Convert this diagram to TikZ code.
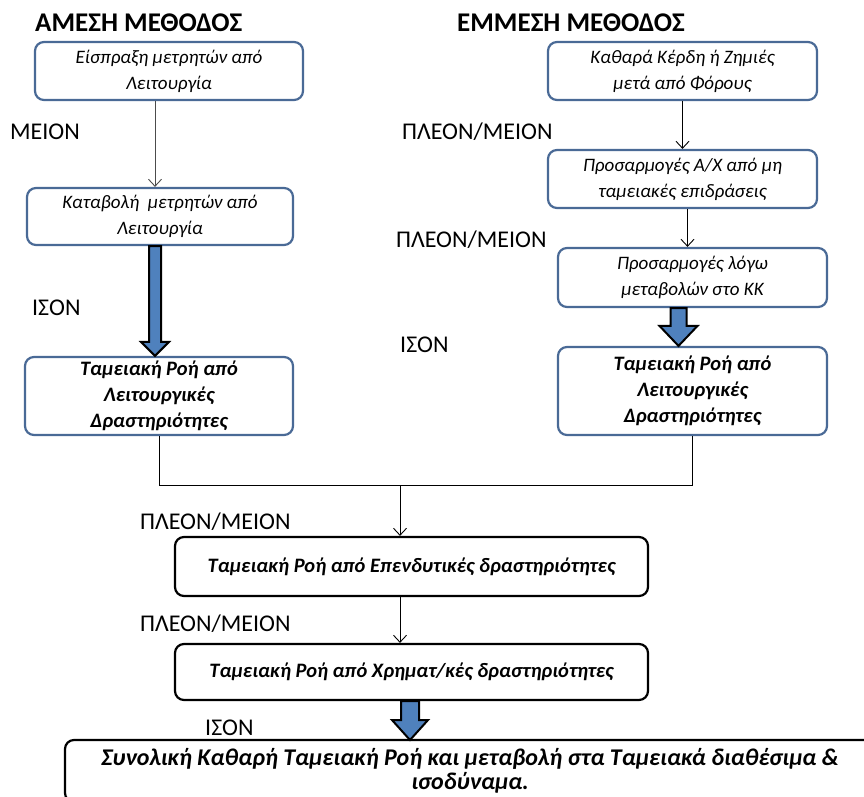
\documentclass[tikz,border=0pt]{standalone}
\usepackage{fontspec}
\setmainfont{Carlito}
\usetikzlibrary{arrows.meta,calc}
\definecolor{boxblue}{HTML}{4A6A96}
\definecolor{fillblue}{HTML}{4F81BD}
\tikzset{
  bbox/.style={draw=boxblue,line width=2.2pt,rounded corners=9pt,align=center,font=\fontsize{19}{26}\selectfont\itshape,inner sep=2pt},
  bboxb/.style={bbox,font=\fontsize{20.5}{26}\selectfont\bfseries\itshape},
  kbox/.style={draw=black,line width=2.2pt,rounded corners=9pt,align=center,font=\fontsize{20.5}{26}\selectfont\bfseries\itshape,inner sep=2pt},
  lbl/.style={font=\fontsize{24}{26}\selectfont,anchor=west,inner sep=0pt},
  ttl/.style={font=\fontsize{27}{30}\selectfont\bfseries,anchor=west,inner sep=0pt},
  thinarr/.style={-{Straight Barb[length=7pt,width=13pt]},line width=0.9pt},
  conn/.style={line width=0.9pt},
  bigarr/.style={draw=black,fill=fillblue,line width=2pt,line join=miter}
}
\begin{document}
\begin{tikzpicture}[x=1pt,y=-1pt]
\useasboundingbox (0,0) rectangle (864,796);
\clip (0,0) rectangle (864,796);
% titles
\node[ttl] (t1) at (35,23) {ΑΜΕΣΗ ΜΕΘΟΔΟΣ};
\node[ttl] (t2) at (457,23) {ΕΜΜΕΣΗ ΜΕΘΟΔΟΣ};
% left column
\node[bbox,minimum width=268pt,minimum height=58pt] (a1) at (169,71) {Είσπραξη μετρητών από\\Λειτουργία};
\node[bbox,minimum width=266pt,minimum height=57pt] (a2) at (160,216.5) {Καταβολή\ \ μετρητών από\\Λειτουργία};
\node[bboxb,minimum width=268pt,minimum height=78pt] (a3) at (159,396) {Ταμειακή Ροή από\\Λειτουργικές\\Δραστηριότητες};
% right column
\node[bbox,minimum width=269pt,minimum height=58pt] (b1) at (682.5,71) {Καθαρά Κέρδη ή Ζημιές\\μετά από Φόρους};
\node[bbox,minimum width=269pt,minimum height=58pt] (b2) at (682.5,179) {Προσαρμογές Α/Χ από μη\\ταμειακές επιδράσεις};
\node[bbox,minimum width=269pt,minimum height=59pt] (b3) at (692.5,277.5) {Προσαρμογές λόγω\\μεταβολών στο ΚΚ};
\node[bboxb,minimum width=269pt,minimum height=88pt] (b4) at (692.5,391) {Ταμειακή Ροή από\\Λειτουργικές\\Δραστηριότητες};
% bottom
\node[kbox,minimum width=473pt,minimum height=59pt] (c1) at (411.5,566.5) {Ταμειακή Ροή από Επενδυτικές δραστηριότητες};
\node[kbox,minimum width=473pt,minimum height=56pt] (c2) at (411.5,672) {Ταμειακή Ροή από Χρηματ/κές δραστηριότητες};
\node[kbox,minimum width=810pt,minimum height=62pt,font=\fontsize{24}{24}\selectfont\bfseries\itshape] (d) at (470,771) {Συνολική Καθαρή Ταμειακή Ροή και μεταβολή στα Ταμειακά διαθέσιμα \&\\ισοδύναμα.};
% labels
\node[lbl] (l1) at (10,132) {ΜΕΙΟΝ};
\node[lbl] (l2) at (32,308) {ΙΣΟΝ};
\node[lbl] (l3) at (402,132) {ΠΛΕΟΝ/ΜΕΙΟΝ};
\node[lbl] (l4) at (396,240) {ΠΛΕΟΝ/ΜΕΙΟΝ};
\node[lbl] (l5) at (400,345) {ΙΣΟΝ};
\node[lbl] (l6) at (140,522) {ΠΛΕΟΝ/ΜΕΙΟΝ};
\node[lbl] (l7) at (140,624) {ΠΛΕΟΝ/ΜΕΙΟΝ};
\node[lbl] (l8) at (205,728) {ΙΣΟΝ};
% thin arrows
\draw[thinarr,draw=black!70] ([xshift=-14pt]a1.south) -- ([xshift=-5pt]a2.north);
\draw[thinarr] (b1.south) -- (b2.north);
\draw[thinarr] ([xshift=5pt]b2.south) -- ([xshift=-5pt]b3.north);
% merge
\coordinate (j) at (400,485);
\draw[conn] (a3.south) |- (j);
\draw[conn] (b4.south) |- (j);
\draw[thinarr] (j) -- (j |- c1.north);
\draw[thinarr] ([xshift=-11.5pt]c1.south) -- ([xshift=-11.5pt]c2.north);
% block arrows
\draw[bigarr] let \p1=([xshift=-5pt]a2.south), \p2=([xshift=-5pt]a3.north) in
  (\x1-6pt,\y1) -- (\x1-6pt,\y2+14pt) -- (\x1-14pt,\y2+14pt) -- (\x1,\y2) -- (\x1+14pt,\y2+14pt) -- (\x1+6pt,\y2+14pt) -- (\x1+6pt,\y1) -- cycle;
\draw[bigarr] let \p1=([xshift=-14pt]b3.south), \p2=([xshift=-14pt]b4.north) in
  (\x1-8pt,\y1) -- (\x1-8pt,\y2+20pt) -- (\x1-19pt,\y2+20pt) -- (\x1,\y2) -- (\x1+19pt,\y2+20pt) -- (\x1+8pt,\y2+20pt) -- (\x1+8pt,\y1) -- cycle;
\draw[bigarr] let \p1=([xshift=-1.5pt]c2.south), \p2=(\x1,740) in
  (\x1-9pt,\y1) -- (\x1-9pt,\y2+20pt) -- (\x1-18pt,\y2+20pt) -- (\x1,\y2) -- (\x1+18pt,\y2+20pt) -- (\x1+9pt,\y2+20pt) -- (\x1+9pt,\y1) -- cycle;
\end{tikzpicture}
\end{document}
